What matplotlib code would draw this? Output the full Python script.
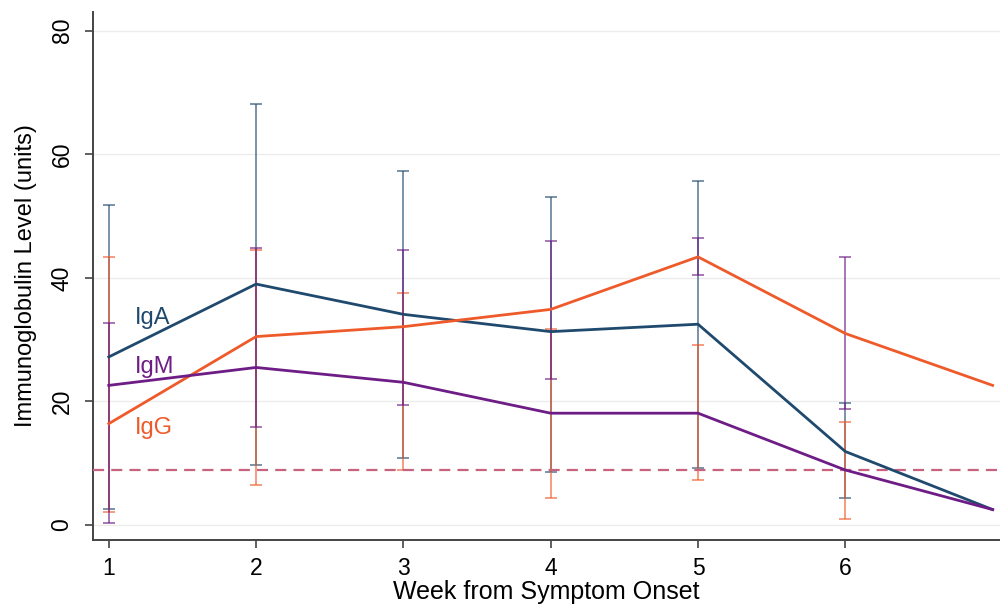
import numpy as np
import matplotlib
matplotlib.use("Agg")
import matplotlib.pyplot as plt

plt.rcParams['font.family'] = ['Liberation Sans', 'DejaVu Sans']

weeks = [1, 2, 3, 4, 5, 6, 7]
iga = [27.2, 39.0, 34.1, 31.3, 32.5, 11.9, 2.5]
igg = [16.4, 30.5, 32.1, 34.9, 43.4, 31.0, 22.6]
igm = [22.6, 25.5, 23.1, 18.1, 18.1, 8.9, 2.5]

bar_weeks = [1, 2, 3, 4, 5, 6]
blue_lo = [2.6, 9.7, 10.8, 8.6, 9.3, 4.3]
blue_hi = [51.8, 68.2, 57.3, 53.1, 55.6, 19.7]
orange_lo = [2.1, 6.5, 8.9, 4.4, 7.3, 0.9]
orange_hi = [43.4, 44.5, 37.6, 31.8, 29.1, 16.7]
purple_lo = [0.3, 15.9, 19.4, 23.7, 40.5, 18.7]
purple_hi = [32.7, 44.8, 44.5, 46.0, 46.4, 43.3]

threshold = 8.9

xticks = [1, 2, 3, 4, 5, 6]
yticks = [0, 20, 40, 60, 80]

c_iga = "#1f4a6e"
c_igg = "#ee5a2a"
c_igm = "#6e1c86"
c_dash = "#c8637f"

fig = plt.figure(figsize=(10, 6.1), dpi=100)
ax = fig.add_axes([0.093, 0.115, 0.907, 0.865])

for y in yticks:
    ax.axhline(y, color="#ececec", lw=1.0, zorder=0)

def bars(lo, hi, color):
    lo = np.array(lo); hi = np.array(hi)
    mid = (lo + hi) / 2
    half = (hi - lo) / 2
    ax.errorbar(bar_weeks, mid, yerr=half, fmt='none', ecolor=color,
                elinewidth=1.4, capsize=4.5, capthick=1.4, alpha=0.6, zorder=2)

bars(blue_lo, blue_hi, c_iga)
bars(orange_lo, orange_hi, c_igg)
bars(purple_lo, purple_hi, c_igm)

ax.axhline(threshold, color=c_dash, lw=1.6, dashes=[5, 3.2], zorder=3)

ax.plot(weeks, iga, color=c_iga, lw=2.0, zorder=4)
ax.plot(weeks, igg, color=c_igg, lw=2.0, zorder=4)
ax.plot(weeks, igm, color=c_igm, lw=2.0, zorder=4)

ax.text(1.177, 32.5, "IgA", color=c_iga, fontsize=17, va='baseline')
ax.text(1.177, 24.6, "IgM", color=c_igm, fontsize=17, va='baseline')
ax.text(1.177, 14.7, "IgG", color=c_igg, fontsize=17, va='baseline')

ax.set_xlim(0.893, 7.05)
ax.set_ylim(-2.4, 83.0)
ax.set_xticks(xticks)
ax.set_yticks(yticks)
ax.set_yticklabels([str(v) for v in yticks], rotation=90, va='center')
ax.tick_params(axis='both', labelsize=16.5, length=6, width=1.2, color="#444444")
ax.tick_params(axis='y', pad=8)
ax.tick_params(axis='x', pad=6)
for s in ['top', 'right']:
    ax.spines[s].set_visible(False)
for s in ['left', 'bottom']:
    ax.spines[s].set_color("#444444")
    ax.spines[s].set_linewidth(1.4)

ax.set_xlabel("Week from Symptom Onset", fontsize=18, labelpad=0)
ax.set_ylabel("Immunoglobulin Level (units)", fontsize=17, labelpad=10)

fig.savefig("out.png", dpi=100)
